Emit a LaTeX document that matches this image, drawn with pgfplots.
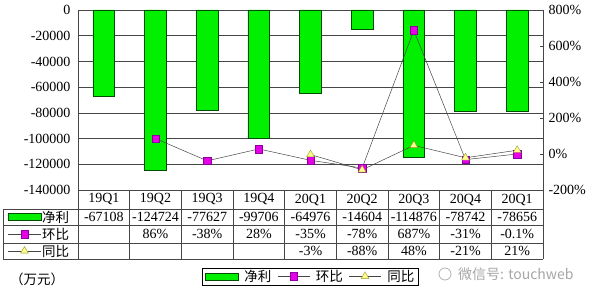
\documentclass[border=0pt]{standalone}
\usepackage{pgfplots}
\pgfplotsset{compat=1.18}
\usepackage{fontspec}
\setmainfont{Liberation Serif}
\newfontfamily\cjk{Noto Sans CJK SC}
\definecolor{barg}{RGB}{0,240,0}
\definecolor{gridc}{RGB}{70,70,70}
\definecolor{mag}{RGB}{230,0,230}
\definecolor{magd}{RGB}{140,0,160}
\definecolor{yel}{RGB}{255,255,140}
\definecolor{yeld}{RGB}{150,150,40}
\begin{document}
\begin{tikzpicture}[x=1pt,y=1pt]
\useasboundingbox (0,0) rectangle (600,300);
\begin{axis}[at={(78pt,110pt)}, anchor=south west, scale only axis,
  width=465pt, height=180pt,
  xmin=-0.5, xmax=8.5, ymin=-140000, ymax=0,
  xtick=\empty, scaled y ticks=false,
  ytick={-140000,-120000,-100000,-80000,-60000,-40000,-20000,0},
  yticklabels={-140000,-120000,-100000,-80000,-60000,-40000,-20000,0},
  yticklabel style={font=\fontsize{14}{14}\selectfont, xshift=-4pt},
  ymajorgrids, grid style={gridc, line width=0.6pt},
  major tick length=0pt,
  axis line style={gridc, line width=0.6pt},
  ybar, bar width=0.42,
]
\addplot[fill=barg, draw=black!70!green, line width=0.5pt] coordinates {
(0,-67108) (1,-124724) (2,-77627) (3,-99706) (4,-64976) (5,-14604) (6,-114876) (7,-78742) (8,-78656)};
\end{axis}
\begin{axis}[at={(78pt,110pt)}, anchor=south west, scale only axis,
  width=465pt, height=180pt,
  xmin=-0.5, xmax=8.5, ymin=-200, ymax=800,
  axis x line=none, axis y line*=right,
  xtick=\empty,
  ytick={-200,0,200,400,600,800},
  yticklabels={-200\%,0\%,200\%,400\%,600\%,800\%},
  yticklabel style={font=\fontsize{14}{14}\selectfont, xshift=2pt},
  tick align=inside, major tick length=3pt, tick style={gridc},
  axis line style={gridc, line width=0.6pt},
  legend style={at={(0.5,-0.48)}, anchor=center, draw=black, line width=0.6pt,
    font=\cjk\fontsize{13.5}{13.5}\selectfont, legend columns=3,
    inner xsep=2pt, inner ysep=0pt, column sep=4pt},
  legend image code/.code={\draw[mark repeat=2,mark phase=2,#1] plot coordinates {(0pt,0pt) (16pt,0pt) (32pt,0pt)};},
]
\addlegendimage{legend image code/.code={\draw[fill=barg,draw=black!70!green,line width=0.5pt] (0pt,-3.5pt) rectangle (33pt,3.5pt);}}
\addlegendentry{净利}
\addplot[gridc, line width=0.5pt, mark=square*, mark size=3.8pt, mark options={fill=mag, draw=magd, line width=0.4pt}] coordinates {
(1,86) (2,-38) (3,28) (4,-35) (5,-78) (6,687) (7,-31) (8,-0.1)};
\addlegendentry{环比}
\addplot[gridc, line width=0.5pt, mark=triangle*, mark size=4.5pt, mark options={fill=yel, draw=yeld, line width=0.4pt}] coordinates {
(4,-3) (5,-88) (6,48) (7,-21) (8,21)};
\addlegendentry{同比}
\end{axis}
% table
\begin{scope}[gridc, line width=0.6pt]
\foreach \yy in {91,75,57,41} {\draw (3,\yy) -- (543,\yy);}
\draw (3,91) -- (3,41);
\foreach \k in {0,...,9} {\draw ({78+51.667*\k},110) -- ({78+51.667*\k},41);}
\end{scope}
\def\fs{\fontsize{14}{14}\selectfont}
\foreach \lab [count=\i from 0] in {19Q1,19Q2,19Q3,19Q4,20Q1,20Q2,20Q3,20Q4,20Q1}
  {\node[font=\fs] at ({78+51.667*(\i+0.5)},100.5) {\lab};}
\foreach \lab [count=\i from 0] in {-67108,-124724,-77627,-99706,-64976,-14604,-114876,-78742,-78656}
  {\node[font=\fs] at ({78+51.667*(\i+0.5)},83) {\lab};}
\foreach \lab [count=\i from 1] in {86\%,-38\%,28\%,-35\%,-78\%,687\%,-31\%,-0.1\%}
  {\node[font=\fs] at ({78+51.667*(\i+0.5)},66) {\lab};}
\foreach \lab [count=\i from 4] in {-3\%,-88\%,48\%,-21\%,21\%}
  {\node[font=\fs] at ({78+51.667*(\i+0.5)},49) {\lab};}
% row headers
\def\cf{\cjk\fontsize{13.5}{13.5}\selectfont}
\draw[fill=barg,draw=black!70!green,line width=0.5pt] (8,79.5) rectangle (41,86.5);
\node[font=\cf, anchor=west, inner sep=0pt] at (42,83) {净利};
\draw[gridc,line width=0.5pt] (8,66) -- (41,66);
\filldraw[fill=mag,draw=magd,line width=0.4pt] (20.7,62.2) rectangle (28.3,69.8);
\node[font=\cf, anchor=west, inner sep=0pt] at (42,66) {环比};
\draw[gridc,line width=0.5pt] (8,49) -- (41,49);
\filldraw[fill=yel,draw=yeld,line width=0.4pt] (24.5,53.5) -- (20.6,46.8) -- (28.4,46.8) -- cycle;
\node[font=\cf, anchor=west, inner sep=0pt] at (42,49) {同比};
\node[font=\cf, anchor=west, inner sep=0pt] at (10,21) {（万元）};
% watermark
\node[font=\cjk\fontsize{14}{14}\selectfont, text=black!35, anchor=west, inner sep=0pt] at (458,26) {微信号: touchweb};
\draw[black!30, line width=0.8pt] (445,26) circle (6);
\end{tikzpicture}
\end{document}
